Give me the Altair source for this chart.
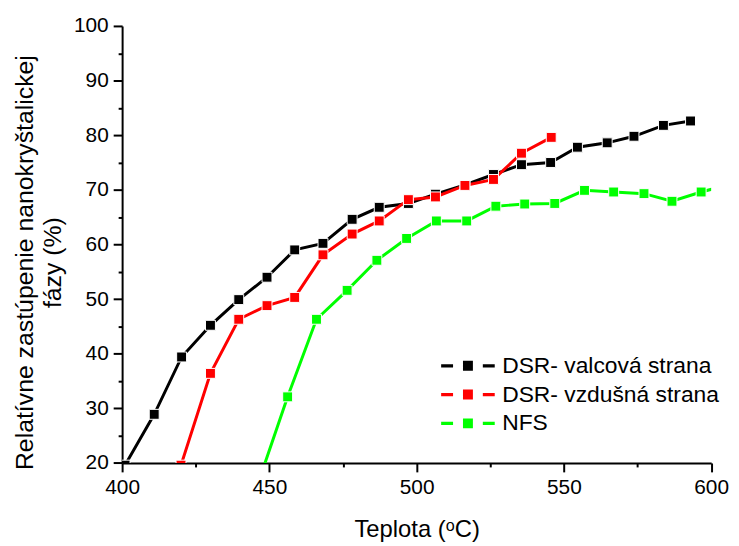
import altair as alt
import pandas as pd

series_names = ["DSR- valcová strana", "DSR- vzdušná strana", "NFS"]
series_colors = ["#000000", "#ff0000", "#00ff00"]

black_t = [401.0, 410.9, 420.2, 430.0, 439.6, 449.2, 458.6, 468.2, 478.1, 487.3, 497.2,
           506.4, 516.4, 526.1, 535.6, 545.5, 554.6, 564.7, 573.8, 583.8, 593.0]
black_v = [19.6, 28.9, 39.4, 45.2, 49.9, 54.0, 59.0, 60.2, 64.6, 66.8, 67.5,
           69.2, 70.9, 72.8, 74.6, 75.0, 77.8, 78.6, 79.8, 81.8, 82.6]

red_t = [420.0, 430.0, 439.6, 449.2, 458.6, 468.2, 478.1, 487.3, 497.2, 506.4, 516.4,
         526.1, 535.6, 545.7]
red_v = [19.6, 36.4, 46.3, 48.8, 50.3, 58.1, 61.9, 64.3, 68.2, 68.7, 70.8,
         71.9, 76.7, 79.6]

green_t = [446.3, 456.2, 466.0, 476.4, 486.5, 496.6, 506.7, 517.0, 526.9, 536.7, 546.9,
           557.0, 566.9, 577.2, 586.7, 596.6, 606.5]
green_v = [16.5, 32.1, 46.3, 51.6, 57.1, 61.1, 64.3, 64.3, 67.0, 67.4, 67.5,
           69.9, 69.6, 69.3, 67.9, 69.6, 71.0]

x_ticks = [400, 425, 450, 475, 500, 525, 550, 575, 600]
y_ticks = [20, 25, 30, 35, 40, 45, 50, 55, 60, 65, 70, 75, 80, 85, 90, 95, 100]

rows = []
for name, ts, vs in zip(series_names, [black_t, red_t, green_t], [black_v, red_v, green_v]):
    for i, (t, v) in enumerate(zip(ts, vs)):
        rows.append({"T": t, "V": v, "series": name, "i": i})
df = pd.DataFrame(rows)

FONT = "Liberation Sans"
# legend glyph: line - square - line (units of 10 px, symbol size 400 -> 20 px box)
legend_path = ("M-2.7,-0.16H-1.5V0.16H-2.7Z "
               "M-0.5,-0.5H0.5V0.5H-0.5Z "
               "M1.5,-0.16H2.7V0.16H1.5Z")

color = alt.Color(
    "series:N",
    scale=alt.Scale(domain=series_names, range=series_colors),
    legend=alt.Legend(
        title=None,
        orient="none",
        legendX=337,
        legendY=331,
        symbolType=legend_path,
        symbolSize=400,
        symbolStrokeWidth=0,
        symbolOpacity=1,
        labelFont=FONT,
        labelFontSize=23,
        labelColor="#000000",
        labelOffset=23,
        labelLimit=400,
        rowPadding=5,
        padding=0,
    ),
)

x = alt.X(
    "T:Q",
    scale=alt.Scale(domain=[400, 600], nice=False, zero=False),
    axis=alt.Axis(
        title="Teplota (ᵒC)",
        values=x_ticks,
        labelExpr="datum.value % 50 === 0 ? datum.label : ''",
        tickSize={"condition": {"test": "datum.value % 50 === 0", "value": 9}, "value": 4},
        grid=False,
        labelFlush=False,
        labelPadding=5,
        titlePadding=20,
    ),
)
y = alt.Y(
    "V:Q",
    scale=alt.Scale(domain=[20, 100], nice=False, zero=False),
    axis=alt.Axis(
        title=["Relatívne zastúpenie nanokryštalickej", "fázy (%)"],
        values=y_ticks,
        labelExpr="datum.value % 10 === 0 ? datum.label : ''",
        tickSize={"condition": {"test": "datum.value % 10 === 0", "value": 9}, "value": 4},
        grid=False,
        labelFlush=False,
        labelPadding=5,
        titlePadding=8,
        titleLineHeight=28,
        titleFontSize=25,
        titleY=238,
    ),
)

lines = alt.Chart(df).mark_line(strokeWidth=3, clip=True).encode(
    x=x, y=y, color=color, detail="series:N", order="i:Q"
)
points = alt.Chart(df).mark_point(
    shape="square", filled=True, size=100, opacity=1, stroke="#ffffff", strokeWidth=1, clip=True
).encode(x=x, y=y, fill=alt.Fill("series:N", scale=alt.Scale(domain=series_names, range=series_colors), legend=None), color=color)

chart = alt.layer(lines, points).properties(
    width=593.6,
    height=440.4,
    autosize=alt.AutoSizeParams(type="none"),
    padding={"left": 115, "top": 16, "right": 20, "bottom": 80},
).configure_view(strokeWidth=0).configure_axis(
    domainColor="#000000",
    domainWidth=2,
    tickColor="#000000",
    tickWidth=2,
    labelFont=FONT,
    labelFontSize=21,
    labelColor="#000000",
    titleFont=FONT,
    titleFontSize=24,
    titleFontWeight="normal",
    titleColor="#000000",
)

chart.save("out.html", embed_options={"renderer": "svg", "actions": False})
